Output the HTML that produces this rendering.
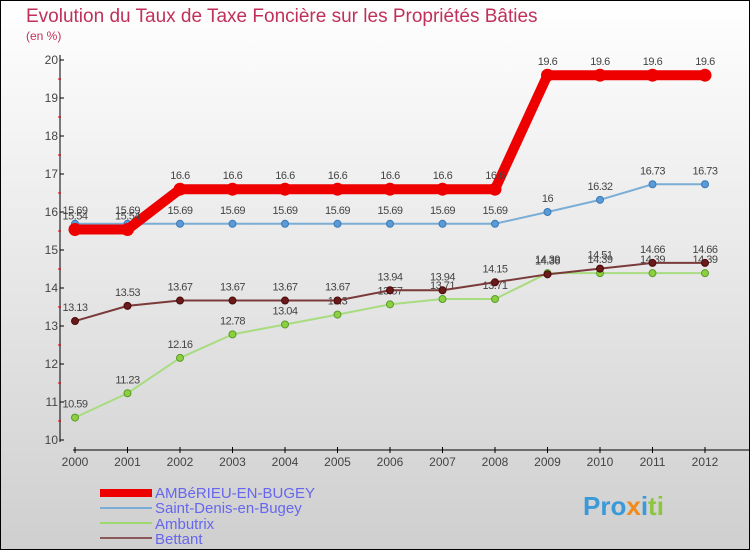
<!DOCTYPE html>
<html><head><meta charset="utf-8"><style>
body{margin:0}
#c{width:750px;height:550px;position:relative;overflow:hidden}
text{font-family:"Liberation Sans",sans-serif}
</style></head><body>
<div id="c">
<svg id="s" width="750" height="550" xmlns="http://www.w3.org/2000/svg">
<defs><linearGradient id="bg" x1="0" y1="0" x2="0" y2="1"><stop offset="0" stop-color="#ffffff"/><stop offset="1" stop-color="#cfcfcf"/></linearGradient></defs>
<rect x="0.5" y="0.5" width="749" height="549" fill="url(#bg)" stroke="#000"/>
<text x="26" y="22" font-size="19" fill="#c0305a">Evolution du Taux de Taxe Foncière sur les Propriétés Bâties</text>
<text x="26" y="40" font-size="12" fill="#c0305a">(en %)</text>
<g id="axes"></g><g id="series"></g>
<g>
<rect x="100" y="489" width="52" height="8" fill="#e00"/>
<text x="155" y="498" font-size="15" fill="#6666ee">AMBéRIEU-EN-BUGEY</text>
<line x1="100" y1="508" x2="152" y2="508" stroke="#7aaed6" stroke-width="2"/>
<text x="155" y="513" font-size="15" fill="#6666ee">Saint-Denis-en-Bugey</text>
<line x1="100" y1="523" x2="152" y2="523" stroke="#9ed870" stroke-width="2"/>
<text x="155" y="529" font-size="15" fill="#6666ee">Ambutrix</text>
<line x1="100" y1="538" x2="152" y2="538" stroke="#8a5a5a" stroke-width="2"/>
<text x="155" y="544" font-size="15" fill="#6666ee">Bettant</text>
</g>
<g><text x="583" y="515" font-size="26" font-weight="bold" fill="#3a9ad9">Pro<tspan fill="#f08a1c">x</tspan>i<tspan fill="#8cc63f">ti</tspan></text></g>
</svg></div>
<script>
const years=[2000,2001,2002,2003,2004,2005,2006,2007,2008,2009,2010,2011,2012];
const amberieu=[15.54,15.54,16.6,16.6,16.6,16.6,16.6,16.6,16.6,19.6,19.6,19.6,19.6];
const saintDenis=[15.69,15.69,15.69,15.69,15.69,15.69,15.69,15.69,15.69,16,16.32,16.73,16.73];
const ambutrix=[10.59,11.23,12.16,12.78,13.04,13.3,13.57,13.71,13.71,14.39,14.39,14.39,14.39];
const bettant=[13.13,13.53,13.67,13.67,13.67,13.67,13.94,13.94,14.15,14.36,14.51,14.66,14.66];
const yTicks=[10,11,12,13,14,15,16,17,18,19,20];
const NS="http://www.w3.org/2000/svg";
const X=i=>75+i*52.5, Y=v=>440-(v-10)*38;
function mk(t,a,p){const e=document.createElementNS(NS,t);for(const k in a)e.setAttribute(k,a[k]);p.appendChild(e);return e;}
const ax=document.getElementById('axes'), sg=document.getElementById('series');
let l=mk('line',{x1:60,y1:55,x2:60,y2:442,stroke:'#000'},ax);


l=mk('line',{x1:73,y1:450,x2:750,y2:450,stroke:'#000'},ax);


yTicks.forEach(v=>{const y=Y(v);
 mk('line',{x1:60,y1:y,x2:64,y2:y,stroke:'#000'},ax);
 if(v<20)mk('line',{x1:58,y1:y-19,x2:61,y2:y-19,stroke:'#d00'},ax);
 const t=mk('text',{x:58,y:y+4,'font-size':12,'text-anchor':'end',fill:'#444'},ax);t.textContent=v;
 
 });
years.forEach((yr,i)=>{const x=X(i);
 mk('line',{x1:x,y1:447,x2:x,y2:453,stroke:'#000'},ax);
 const t=mk('text',{x:x,y:466,'font-size':12,'text-anchor':'middle',fill:'#444'},ax);t.textContent=yr;
 
 });
function series(d,name,col,w,dot,dotStroke,r){
 const g=mk('g',{},sg);
 
 
 mk('polyline',{points:d.map((v,i)=>X(i)+','+Y(v)).join(' '),fill:'none',stroke:col,'stroke-width':w,'stroke-linejoin':'round'},g);
 d.forEach((v,i)=>{const c=mk('circle',{cx:X(i),cy:Y(v),r:r,fill:dot,stroke:dotStroke},g);
  
  
  const t=mk('text',{x:X(i),y:Y(v)-10,'font-size':11,'text-anchor':'middle',fill:'#444','letter-spacing':'-0.5'},g);t.textContent=v;
  
  });
}
series(ambutrix,'ambutrix','#a8dc80',2,'#8cd040','#5a9a2a',3.5);
series(bettant,'bettant','#7a3a3a',2,'#6a1a1a','#4a0a0a',3.5);
series(saintDenis,'saint-denis','#7aaed6',2,'#5a9ad6','#3a7ab6',3.5);
series(amberieu,'amberieu','#ee0000',10,'#ee0000','#ee0000',6);
</script>
</body></html>
